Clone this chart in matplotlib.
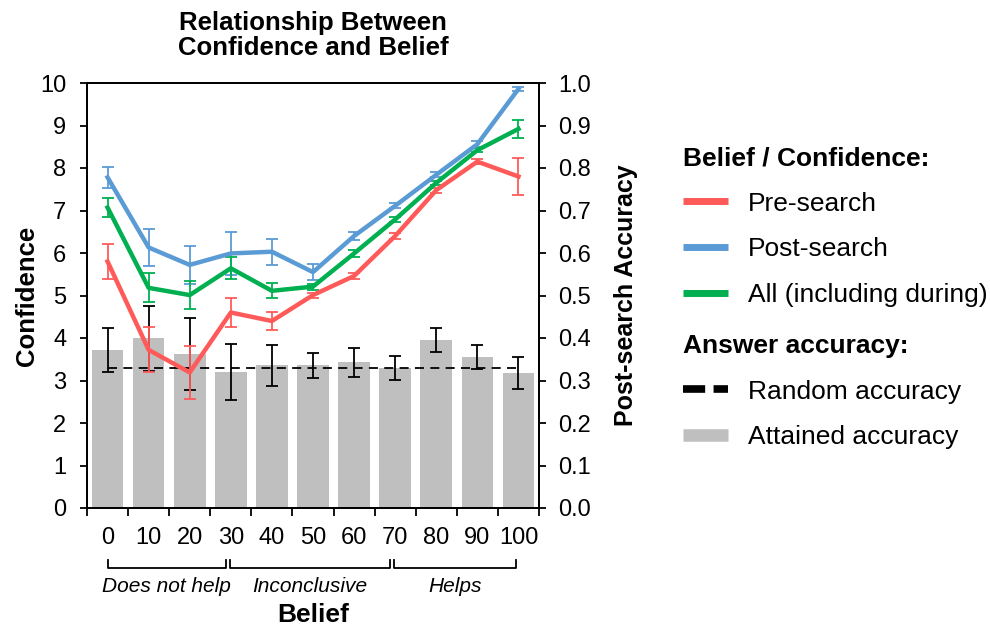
import matplotlib
matplotlib.use("Agg")
import matplotlib.pyplot as plt
from matplotlib.lines import Line2D
import numpy as np

plt.rcParams['font.family'] = ['Liberation Sans', 'DejaVu Sans']

# belief bins (x categories)
beliefs = [0, 10, 20, 30, 40, 50, 60, 70, 80, 90, 100]

# confidence per belief bin (left axis)
pre_conf = [5.80, 3.72, 3.19, 4.60, 4.40, 5.01, 5.46, 6.40, 7.48, 8.15, 7.80]
pre_err = [0.42, 0.53, 0.63, 0.35, 0.21, 0.06, 0.07, 0.07, 0.06, 0.06, 0.44]
post_conf = [7.78, 6.13, 5.72, 5.99, 6.03, 5.55, 6.40, 7.11, 7.84, 8.56, 9.86]
post_err = [0.25, 0.43, 0.45, 0.50, 0.31, 0.19, 0.10, 0.06, 0.06, 0.07, 0.04]
all_conf = [7.07, 5.18, 5.01, 5.64, 5.11, 5.21, 5.99, 6.79, 7.65, 8.42, 8.92]
all_err = [0.23, 0.34, 0.33, 0.26, 0.18, 0.07, 0.08, 0.06, 0.05, 0.05, 0.21]

# post-search answer accuracy (right axis)
accuracy = [0.371, 0.399, 0.362, 0.319, 0.336, 0.336, 0.343, 0.330, 0.396, 0.355, 0.318]
accuracy_err = [0.052, 0.077, 0.085, 0.066, 0.048, 0.029, 0.034, 0.028, 0.028, 0.029, 0.037]
random_acc = 0.33

# belief groups under the x axis
groups = ["Does not help", "Inconclusive", "Helps"]
group_spans = [(0, 2.88), (2.98, 6.88), (6.98, 9.95)]

RED = '#ff5a5a'
BLUE = '#5b9bd5'
GREEN = '#00b050'
GRAY = '#bfbfbf'

fig = plt.figure(figsize=(9.9, 6.28), dpi=100)
ax = fig.add_axes([87/990, 1 - 508/628, (539-87)/990, (508-83)/628])
ax2 = ax.twinx()
# bars go behind the lines
ax2.set_zorder(ax.get_zorder() - 1)
ax.patch.set_visible(False)

x = np.arange(len(beliefs))

# accuracy bars + random line
ax2.bar(x, accuracy, width=0.77, color=GRAY, zorder=1)
ax2.errorbar(x, accuracy, yerr=accuracy_err, fmt='none', ecolor='black',
             elinewidth=1.3, capsize=4.5, capthick=1.3, zorder=3)
ax2.plot([x[0], x[-1]], [random_acc, random_acc], color='black', lw=1.3,
         dashes=(5, 3.5), zorder=2)

# confidence lines
for vals, errs, col in [(pre_conf, pre_err, RED), (post_conf, post_err, BLUE),
                        (all_conf, all_err, GREEN)]:
    ax.errorbar(x, vals, yerr=errs, fmt='-', color=col, lw=3.2,
                elinewidth=1.3, capsize=4.3, capthick=1.3)

ax.set_xlim(-0.5, 10.5)
ax.set_ylim(0, 10)
ax2.set_ylim(0, 1)
ax.set_yticks(range(0, 11))
ax2.set_yticks(np.arange(0, 1.01, 0.1))
ax2.set_yticklabels([f"{v:.1f}" for v in np.arange(0, 1.01, 0.1)])

ax.set_xticks(x)
ax.set_xticklabels([str(b) for b in beliefs])
ax.set_xticks(np.arange(-0.5, 10.6, 1), minor=True)
ax.tick_params(axis='x', which='major', length=0, pad=13.5, labelsize=17)
ax.tick_params(axis='x', which='minor', length=6, width=1.3, direction='out')
ax.tick_params(axis='y', length=5, width=1.3, pad=10, labelsize=17)
ax2.tick_params(axis='y', length=5, width=1.3, pad=9, labelsize=17)

for a in (ax, ax2):
    for s in a.spines.values():
        s.set_linewidth(1.3)

ax.set_ylabel("Confidence", fontsize=18.5, fontweight='bold', labelpad=1)
ax2.set_ylabel("Post-search Accuracy", fontsize=18, fontweight='bold', labelpad=16)
ax.set_title("Relationship Between\nConfidence and Belief", fontsize=18.5,
             fontweight='bold', pad=20.5, linespacing=1.05)

# group brackets
trans = ax.get_xaxis_transform()
for name, (x0, x1) in zip(groups, group_spans):
    y_top = -52/425
    y_bot = -60/425
    ax.plot([x0, x0, x1, x1], [y_top, y_bot, y_bot, y_top], color='black',
            lw=1.3, transform=trans, clip_on=False)
    ax.text((x0 + x1) / 2, -78/425, name, transform=trans, ha='center',
            va='center', fontsize=15, style='italic')
ax.text(5, -107/425, "Belief", transform=trans, ha='center', va='center',
        fontsize=19, fontweight='bold')

# legends
leg_kw = dict(loc='upper left', bbox_transform=fig.transFigure, frameon=False,
              fontsize=19, alignment='left',
              title_fontproperties={'weight': 'bold', 'size': 19},
              handlelength=1.7, handletextpad=0.76, labelspacing=0.82,
              borderpad=0, borderaxespad=0)
h1 = [Line2D([], [], color=RED, lw=5, solid_capstyle='butt'),
      Line2D([], [], color=BLUE, lw=5, solid_capstyle='butt'),
      Line2D([], [], color=GREEN, lw=5, solid_capstyle='butt')]
leg1 = ax.legend(h1, ["Pre-search", "Post-search", "All (including during)"],
                 bbox_to_anchor=(683/990, 1 - 146/628),
                 title="Belief / Confidence:", **leg_kw)
ax.add_artist(leg1)
h2 = [Line2D([], [], color='black', lw=5.5, dashes=(2.9, 1.1), dash_capstyle='butt'),
      Line2D([], [], color=GRAY, lw=9, solid_capstyle='butt')]
ax.legend(h2, ["Random accuracy", "Attained accuracy"],
          bbox_to_anchor=(683/990, 1 - 334/628),
          title="Answer accuracy:", **leg_kw)

fig.savefig("out.png", dpi=100)
